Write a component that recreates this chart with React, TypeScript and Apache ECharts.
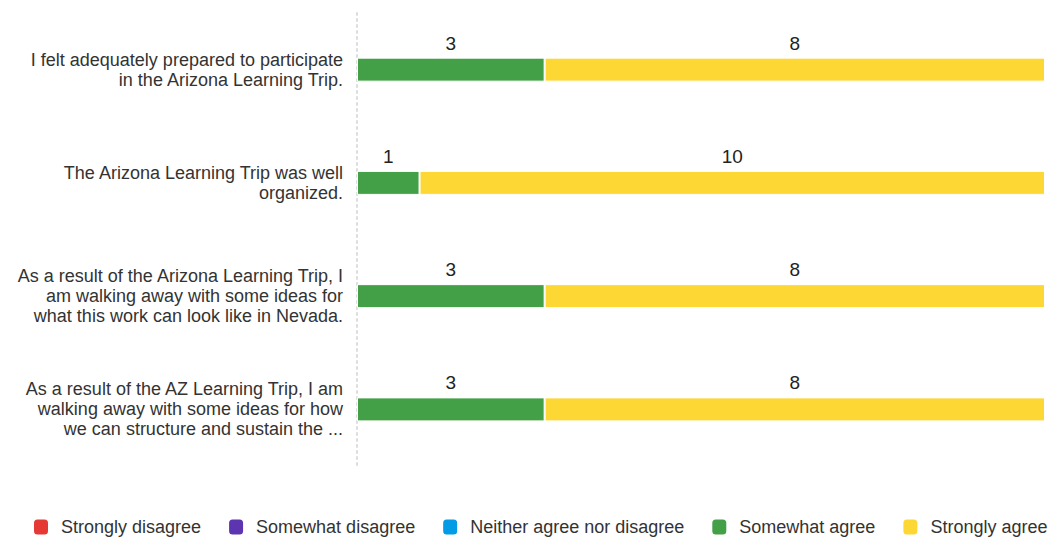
import React, { useEffect, useRef } from "react";
import * as echarts from "echarts";

const categories = [
  "I felt adequately prepared to participate\nin the Arizona Learning Trip.",
  "The Arizona Learning Trip was well\norganized.",
  "As a result of the Arizona Learning Trip, I\nam walking away with some ideas for\nwhat this work can look like in Nevada.",
  "As a result of the AZ Learning Trip, I am\nwalking away with some ideas for how\nwe can structure and sustain the ...",
];
const seriesNames = [
  "Strongly disagree",
  "Somewhat disagree",
  "Neither agree nor disagree",
  "Somewhat agree",
  "Strongly agree",
];
const stronglyDisagree = [0, 0, 0, 0];
const somewhatDisagree = [0, 0, 0, 0];
const neither = [0, 0, 0, 0];
const somewhatAgree = [3, 1, 3, 3];
const stronglyAgree = [8, 10, 8, 8];
const colors = ["#e53935", "#5e35b1", "#039be5", "#43a047", "#fdd835"];
const FONT = "'Liberation Sans', Arial, sans-serif";

export default function App() {
  const ref = useRef<HTMLDivElement>(null);
  useEffect(() => {
    const chart = echarts.init(ref.current!, null, { renderer: "svg" });
    const values = [stronglyDisagree, somewhatDisagree, neither, somewhatAgree, stronglyAgree];
    chart.setOption({
      animation: false,
      textStyle: { fontFamily: FONT },
      grid: { left: 357, right: 11, top: 13, bottom: 74 },
      legend: {
        bottom: 4,
        left: 34,
        padding: 0,
        itemWidth: 14,
        itemHeight: 15,
        itemGap: 28,
        icon: "roundRect",
        itemStyle: { borderWidth: 0 },
        textStyle: { fontSize: 18, color: "#333", fontFamily: FONT, padding: [0, 0, 0, 8] },
        data: seriesNames,
      },
      xAxis: {
        type: "value",
        min: 0,
        max: 11,
        show: false,
      },
      yAxis: {
        type: "category",
        inverse: true,
        data: categories,
        axisTick: { show: false },
        axisLine: { show: true, lineStyle: { color: "#ddd", type: [2, 4], width: 2 } },
        axisLabel: {
          fontSize: 18,
          fontFamily: FONT,
          color: "#333",
          lineHeight: 20,
          margin: 14,
          align: "right",
        },
      },
      series: seriesNames.map((name, i) => ({
        name,
        type: "bar",
        stack: "total",
        barWidth: 24,
        data: values[i].map((v) => (v === 0 ? null : v)),
        itemStyle: { color: colors[i], borderColor: "#fff", borderWidth: 1 },
        label: {
          show: true,
          position: "top",
          distance: 5,
          fontSize: 19,
          fontFamily: FONT,
          color: "#222",
          formatter: (p: any) => (p.value ? String(p.value) : ""),
        },
      })),
      color: colors,
    });
    return () => chart.dispose();
  }, []);
  return (
    <div
      ref={ref}
      style={{ position: "absolute", left: 0, top: 0, width: 1056, height: 540 }}
    />
  );
}
